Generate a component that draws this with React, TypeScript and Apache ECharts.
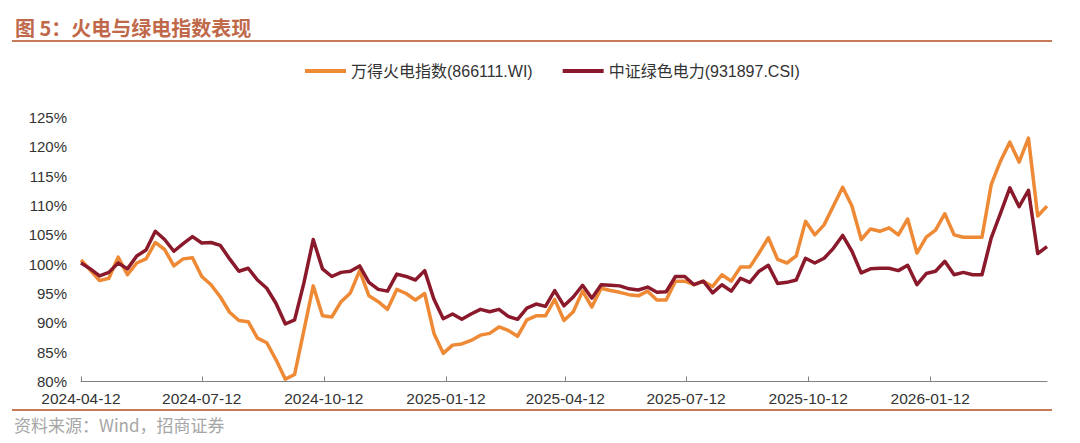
import React, { useEffect, useRef } from "react";
import * as echarts from "echarts";

// Weekly observations starting 2024-04-12
const startDate = "2024-04-12";
const pointCount = 105;

// 万得火电指数(866111.WI), % of start
const thermalIndex = [
  100.7, 99.0, 97.2, 97.6, 101.2, 98.2, 100.2, 100.9, 103.7, 102.5,
  99.7, 100.9, 101.1, 97.9, 96.5, 94.4, 91.8, 90.4, 90.2, 87.4,
  86.6, 83.7, 80.4, 81.2, 88.7, 96.3, 91.2, 91.0, 93.6, 95.1,
  98.9, 94.6, 93.6, 92.3, 95.7, 95.0, 93.9, 95.0, 88.2, 84.8,
  86.2, 86.4, 87.0, 87.9, 88.2, 89.3, 88.7, 87.7, 90.5, 91.2,
  91.2, 94.0, 90.4, 91.9, 95.4, 92.7, 95.9, 95.5, 95.2, 94.8,
  94.6, 95.4, 93.9, 93.9,
  97.1, 97.1, 96.5, 97.1, 96.2, 98.2, 97.1, 99.5, 99.5, 101.9,
  104.5, 100.8, 100.2, 101.4, 107.3, 105.0, 106.7, 109.9, 113.1, 109.9,
  104.2, 106.0, 105.6, 106.2, 105.0, 107.7, 101.9, 104.6, 105.8, 108.6,
  105.0, 104.6, 104.6, 104.6, 113.6, 117.6, 120.8, 117.4, 121.5, 108.2,
  109.9,
];

// 中证绿色电力(931897.CSI), % of start
const greenIndex = [
  100.2, 99.2, 98.0, 98.6, 100.2, 99.2, 101.4, 102.4, 105.6, 104.2,
  102.2, 103.5, 104.7, 103.6, 103.7, 103.2, 100.9, 98.8, 99.3, 97.3,
  95.9, 93.3, 89.8, 90.5, 96.8, 104.2, 99.2, 97.9, 98.6, 98.8,
  99.7, 96.9, 95.7, 95.4, 98.3, 97.9, 97.3, 98.9, 94.0, 90.7,
  91.5, 90.6, 91.5, 92.3, 91.9, 92.3, 91.1, 90.6, 92.5, 93.2,
  92.8, 95.5, 92.9, 94.4, 96.4, 94.2, 96.5, 96.4, 96.3, 95.8,
  95.6, 96.1, 95.2, 95.3,
  97.9, 97.9, 96.5, 97.1, 95.1, 96.5, 95.4, 97.6, 96.9, 98.8,
  99.8, 96.7, 96.9, 97.3, 101.0, 100.2, 101.0, 102.7, 104.9, 102.2,
  98.5, 99.2, 99.3, 99.3, 98.9, 99.8, 96.5, 98.4, 98.8, 100.5,
  98.2, 98.6, 98.2, 98.2, 104.5, 108.7, 113.0, 109.8, 112.6, 101.8,
  103.0,
];

const tickLabels = [
  "2024-04-12", "2024-07-12", "2024-10-12", "2025-01-12",
  "2025-04-12", "2025-07-12", "2025-10-12", "2026-01-12",
];

const seriesNames = ["万得火电指数(866111.WI)", "中证绿色电力(931897.CSI)"];
const seriesColors = ["#EE8A35", "#8A1A2B"];

const FONT = "'Liberation Sans', Arial, 'Noto Sans CJK SC', sans-serif";
const CJK = "'Noto Sans CJK SC', 'Liberation Sans', sans-serif";

const DAY = 86400000;

function dayIndex(s: string): number {
  const [y, m, d] = s.split("-").map(Number);
  return Math.round(Date.UTC(y, m - 1, d) / DAY);
}
function pad(n: number) {
  return n < 10 ? "0" + n : "" + n;
}
function fmtDay(v: number) {
  const d = new Date(Math.round(v) * DAY);
  return `${d.getUTCFullYear()}-${pad(d.getUTCMonth() + 1)}-${pad(d.getUTCDate())}`;
}

export default function App() {
  const ref = useRef<HTMLDivElement>(null);

  useEffect(() => {
    if (!ref.current) return;
    const chart = echarts.init(ref.current, null, { renderer: "svg" });
    const start = dayIndex(startDate);
    const days: number[] = [];
    for (let i = 0; i < pointCount; i++) days.push(start + 7 * i);
    const tickDays = tickLabels.map(dayIndex);

    const option: any = {
      animation: false,
      backgroundColor: "#ffffff",
      textStyle: { fontFamily: FONT },
      grid: {
        left: 81,
        right: 33,
        top: 117.5,
        bottom: 61.5,
        containLabel: false,
        outerBoundsMode: "none",
      },
      legend: {
        data: seriesNames,
        left: 300,
        top: 58,
        icon: "rect",
        itemWidth: 41,
        itemHeight: 4,
        itemGap: 30,
        textStyle: { fontSize: 16, color: "#333333", fontFamily: FONT },
      },
      xAxis: {
        type: "value",
        min: days[0],
        max: days[days.length - 1],
        scale: true,
        axisLine: { show: true, lineStyle: { color: "#808080", width: 1 } },
        axisTick: {
          show: true,
          inside: true,
          length: 5,
          customValues: tickDays,
          lineStyle: { color: "#808080" },
        },
        axisLabel: {
          customValues: tickDays,
          formatter: (v: number) => fmtDay(v),
          color: "#333333",
          fontSize: 15.5,
          margin: 9,
          fontFamily: FONT,
        },
        splitLine: { show: false },
      },
      yAxis: {
        type: "value",
        min: 80,
        max: 125,
        interval: 5,
        axisLine: { show: false },
        axisTick: { show: false },
        splitLine: { show: false },
        axisLabel: {
          formatter: "{value}%",
          color: "#333333",
          fontSize: 15,
          margin: 14,
          fontFamily: FONT,
        },
      },
      series: [
        {
          name: seriesNames[0],
          type: "line",
          symbol: "none",
          data: days.map((d, i) => [d, thermalIndex[i]]),
          lineStyle: { color: seriesColors[0], width: 3.5, join: "round" },
          itemStyle: { color: seriesColors[0] },
        },
        {
          name: seriesNames[1],
          type: "line",
          symbol: "none",
          data: days.map((d, i) => [d, greenIndex[i]]),
          lineStyle: { color: seriesColors[1], width: 3.5, join: "round" },
          itemStyle: { color: seriesColors[1] },
        },
      ],
      graphic: [
        {
          type: "text",
          x: 15,
          y: 27,
          style: {
            text: "图 5：火电与绿电指数表现",
            fill: "#C0694A",
            fontSize: 20,
            fontWeight: "bold",
            fontFamily: CJK,
            verticalAlign: "middle",
            align: "left",
          },
        },
        {
          type: "line",
          shape: { x1: 12, y1: 41, x2: 1052, y2: 41 },
          style: { stroke: "#C8795A", lineWidth: 2 },
        },
        {
          type: "line",
          shape: { x1: 12, y1: 410, x2: 1052, y2: 410 },
          style: { stroke: "#C8795A", lineWidth: 2 },
        },
        {
          type: "text",
          x: 14,
          y: 424,
          style: {
            text: "资料来源：Wind，招商证券",
            fill: "#A6A6A6",
            fontSize: 17,
            fontFamily: CJK,
            verticalAlign: "middle",
            align: "left",
          },
        },
      ],
    };
    chart.setOption(option);
    return () => chart.dispose();
  }, []);

  return (
    <div
      ref={ref}
      style={{ position: "fixed", left: 0, top: 0, width: 1080, height: 443 }}
    />
  );
}
